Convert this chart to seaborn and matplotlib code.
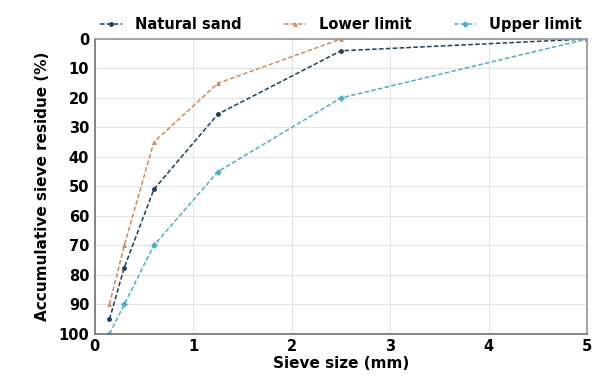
import pandas as pd
import numpy as np
import matplotlib
matplotlib.use('Agg')
import matplotlib.pyplot as plt
import seaborn as sns

sieve_size = [0.15, 0.3, 0.6, 1.25, 2.5, 5]
natural_sand = [95, 77.5, 51, 25.5, 4, 0]
lower_limit = [90, 70, 35, 15, 0, 0]
upper_limit = [100, 90, 70, 45, 20, 0]
series_names = ['Natural sand', 'Lower limit', 'Upper limit']

df = pd.DataFrame({
    'Sieve size (mm)': sieve_size * 3,
    'Residue': natural_sand + lower_limit + upper_limit,
    'Series': np.repeat(series_names, len(sieve_size)),
})

sns.set_theme(style='white')
plt.rcParams['font.family'] = ['DejaVu Sans']
plt.rcParams['font.weight'] = 'bold'
plt.rcParams['text.color'] = 'black'
plt.rcParams['axes.labelcolor'] = 'black'
plt.rcParams['xtick.color'] = 'black'
plt.rcParams['ytick.color'] = 'black'

colors = {'Natural sand': '#1c3f5e', 'Lower limit': '#d08a5c', 'Upper limit': '#4aafca'}
markers = {'Natural sand': 'o', 'Lower limit': '^', 'Upper limit': 'D'}

fig = plt.figure(figsize=(5.92, 3.86), dpi=100)
ax = fig.add_axes([0.16, 0.135, 0.832, 0.764])
sns.lineplot(data=df, x='Sieve size (mm)', y='Residue', hue='Series', style='Series',
             palette=colors, markers=markers, dashes=False,
             linewidth=1.1, markersize=3.5, markeredgewidth=0, ax=ax, legend=True)

for line in ax.lines:
    line.set_linestyle((0, (3, 1.5)))

ax.set_xlim(0, 5)
ax.set_ylim(100, 0)
ax.set_xticks(range(0, 6))
ax.set_yticks(range(0, 101, 10))
ax.grid(True, color='#e4e4e4', linewidth=0.8)
for side in ['left', 'bottom']:
    ax.spines[side].set_color('#777777')
for side in ['top', 'right']:
    ax.spines[side].set_color('#9a9a9a')
ax.tick_params(axis='both', labelsize=10.5, length=0, pad=4)
for lab in ax.get_xticklabels() + ax.get_yticklabels():
    lab.set_fontweight('bold')
ax.set_xlabel('Sieve size (mm)', fontsize=11, fontweight='bold', labelpad=1)
ax.set_ylabel('Accumulative sieve residue (%)', fontsize=11, fontweight='bold', labelpad=6)

handles, labels = ax.get_legend_handles_labels()
for h in handles:
    h.set_linestyle((0, (3, 1.5)))
ax.legend(handles, labels, loc='lower center', bbox_to_anchor=(0.5, 1.0), ncol=3,
          frameon=False, prop={'weight': 'bold', 'size': 10.5},
          handlelength=1.5, columnspacing=2.9, borderaxespad=0.1, handletextpad=0.9)

fig.savefig('out.png', dpi=100)
